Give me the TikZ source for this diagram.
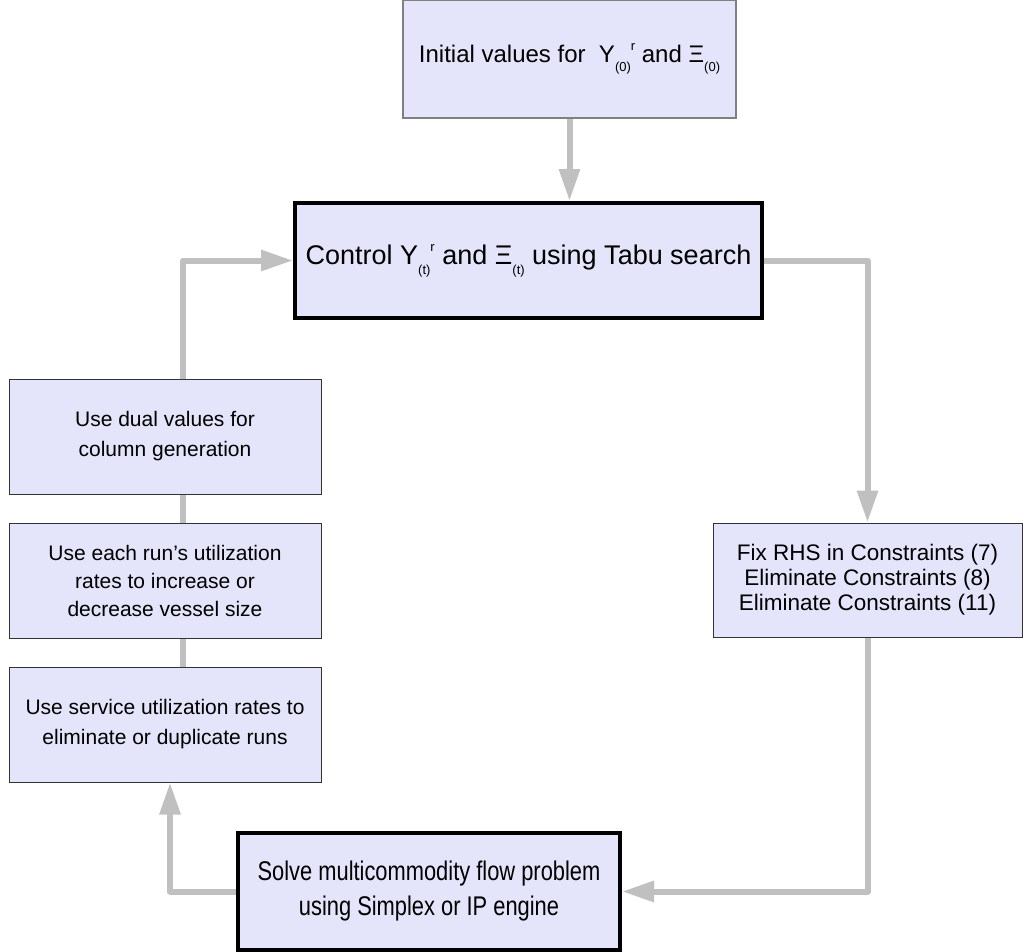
\documentclass[tikz,border=0pt]{standalone}
\usepackage{fontspec}
\setmainfont{Liberation Sans}
\usetikzlibrary{arrows.meta}
\definecolor{boxfill}{RGB}{228,228,250}
\definecolor{conn}{RGB}{192,192,192}
\newcommand\subx[1]{\raisebox{-0.35em}{\fontsize{13}{13}\selectfont #1}}
\newcommand\supx[1]{\raisebox{0.5em}{\fontsize{13}{13}\selectfont #1}}
\tikzset{
  box/.style={draw=black!80, line width=1pt, fill=boxfill, align=center, inner sep=0pt},
  bigbox/.style={draw=black, line width=4pt, fill=boxfill, align=center, inner sep=0pt},
  arr/.style={draw=conn, line width=6pt, line join=round, -{Triangle[length=32pt,width=20pt]}},
  plain/.style={draw=conn, line width=6pt, line join=round}
}
\begin{document}
\begin{tikzpicture}[x=1pt,y=-1pt]
\useasboundingbox (0,0) rectangle (1023,951);
\node[box, draw=black!50, line width=1.5pt, minimum width=333pt, minimum height=118pt, font=\fontsize{24}{28}\selectfont] (init) at (569.5,59)
  {Initial values for\ \ Y\subx{(0)}\supx{r} and \char"039E\subx{(0)}};
\node[bigbox, minimum width=467pt, minimum height=115pt, font=\fontsize{27}{30}\selectfont] (ctrl) at (528.5,260.5)
  {Control Y\subx{(t)}\supx{r} and \char"039E\subx{(t)} using Tabu search};
\node[box, minimum width=312pt, minimum height=115pt, font=\fontsize{21}{30}\selectfont] (b1) at (165,436.5)
  {Use dual values for\\column generation};
\node[box, minimum width=312pt, minimum height=115pt, font=\fontsize{21}{28}\selectfont] (b2) at (165,580.5)
  {Use each run's utilization\\rates to increase or\\decrease vessel size};
\node[box, minimum width=312pt, minimum height=115pt, font=\fontsize{21}{30}\selectfont] (b3) at (165,724.5)
  {Use service utilization rates to\\eliminate or duplicate runs};
\node[box, minimum width=309pt, minimum height=114pt, font=\fontsize{22.5}{25}\selectfont] (rbox) at (867.5,580)
  {Fix RHS in Constraints (7)\\Eliminate Constraints (8)\\Eliminate Constraints (11)};
\node[bigbox, minimum width=382pt, minimum height=117pt, font=\fontsize{27}{35}\selectfont] (bot) at (429,891.5)
  {\scalebox{0.81}[1]{Solve multicommodity flow problem}\\\scalebox{0.81}[1]{using Simplex or IP engine}};
\coordinate (c3) at ([xshift=5pt]b3.south);
\coordinate (b1t) at ([xshift=18pt]b1.north);
\draw[arr] (init.south) -- (init.south |- ctrl.north);
\draw[arr] (ctrl.east) -| (rbox.north);
\draw[arr] (rbox.south) |- (bot.east);
\draw[arr] (bot.west) -| (c3);
\draw[plain] ([xshift=18pt]b3.north) -- ([xshift=18pt]b2.south);
\draw[plain] ([xshift=18pt]b2.north) -- ([xshift=18pt]b1.south);
\draw[arr] (b1t) |- (ctrl.west);
\end{tikzpicture}
\end{document}
